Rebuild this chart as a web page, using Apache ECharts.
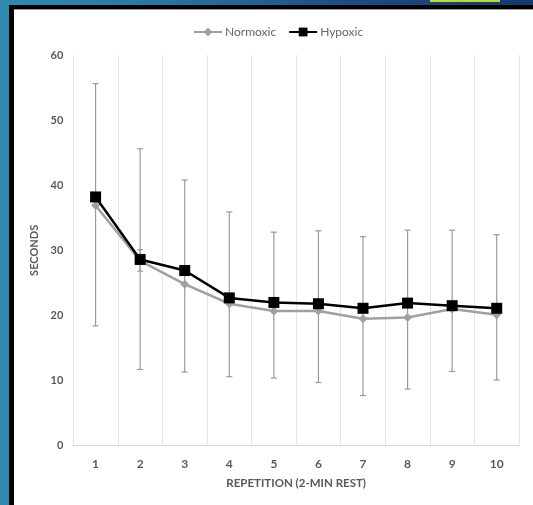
<!DOCTYPE html>
<html>
<head>
<meta charset="utf-8">
<script src="https://cdn.jsdelivr.net/npm/echarts@6/dist/echarts.min.js"></script>
<style>
html,body{margin:0;padding:0;width:533px;height:505px;overflow:hidden;}
body{background:linear-gradient(90deg,#2f8ab1 0%,#2676a3 30%,#1b4d83 65%,#133a6f 100%);position:relative;}
#frame{position:absolute;left:9px;top:5px;width:524px;height:500px;background:#000;}
#panel{position:absolute;left:14px;top:9px;width:519px;height:496px;background:#fff;border-top:1px solid #9a9a9a;box-sizing:border-box;}
#tag{position:absolute;left:430px;top:0;width:70px;height:2px;background:#c3d82a;}
#chart{position:absolute;left:0;top:0;width:533px;height:505px;}
</style>
</head>
<body>
<div id="frame"></div>
<div id="tag"></div>
<div id="panel"></div>
<div id="chart"></div>
<script>
const categories = ['1','2','3','4','5','6','7','8','9','10'];
const normoxic = [36.9, 28.4, 24.8, 21.8, 20.7, 20.7, 19.5, 19.7, 21.0, 20.1];
const hypoxic  = [38.2, 28.6, 26.9, 22.7, 22.0, 21.8, 21.1, 21.9, 21.5, 21.1];
const errLow   = [18.4, 11.7, 11.3, 10.6, 10.4, 9.7, 7.7, 8.7, 11.4, 10.1];
const errHigh  = [55.6, 45.6, 40.8, 35.9, 32.8, 33.0, 32.1, 33.1, 33.1, 32.4];
const shortErrLow  = [null, 26.8, null, null, null, null, null, null, null, null];
const shortErrHigh = [null, 30.1, null, null, null, null, null, null, null, null];

const errData = categories.map((c, i) => [i, errLow[i], errHigh[i]]);
const shortErrData = categories.map((c, i) => [i, shortErrLow[i], shortErrHigh[i]]).filter(d => d[1] != null);

function errRender(params, api) {
  const x = api.value(0);
  const lo = api.coord([x, api.value(1)]);
  const hi = api.coord([x, api.value(2)]);
  const w = 3;
  const st = {stroke: '#9a9a9a', lineWidth: 1.2};
  return {
    type: 'group',
    children: [
      {type: 'line', shape: {x1: lo[0], y1: lo[1], x2: hi[0], y2: hi[1]}, style: st},
      {type: 'line', shape: {x1: hi[0]-w, y1: hi[1], x2: hi[0]+w, y2: hi[1]}, style: st},
      {type: 'line', shape: {x1: lo[0]-w, y1: lo[1], x2: lo[0]+w, y2: lo[1]}, style: st}
    ]
  };
}

const chart = echarts.init(document.getElementById('chart'), null, {renderer: 'canvas'});
const FONT = 'Lato, "Open Sans", sans-serif';
chart.setOption({
  backgroundColor: 'transparent',
  animation: false,
  textStyle: {fontFamily: FONT},
  legend: {
    left: 188, top: 21,
    itemWidth: 28, itemHeight: 11, itemGap: 12,
    textStyle: {color: '#666666', fontSize: 12, fontFamily: FONT, padding: [0, 0, 0, -2]},
    data: ['Normoxic', 'Hypoxic']
  },
  grid: {left: 73.3, right: 14, top: 55, bottom: 59.3, containLabel: false},
  xAxis: {
    type: 'category',
    data: categories,
    boundaryGap: true,
    name: 'REPETITION (2-MIN REST)',
    nameLocation: 'middle',
    nameGap: 32,
    nameTextStyle: {color: '#595959', fontSize: 11.5, fontWeight: 'bold', fontFamily: FONT},
    axisLine: {show: true, lineStyle: {color: '#d9d9d9', width: 1}},
    axisTick: {show: false},
    axisLabel: {color: '#595959', fontSize: 12, fontWeight: 'bold', margin: 12, fontFamily: FONT},
    splitLine: {show: true, interval: 0, lineStyle: {color: '#e6e6e6', width: 1}}
  },
  yAxis: {
    type: 'value',
    min: 0, max: 60, interval: 10,
    name: 'SECONDS',
    nameLocation: 'middle',
    nameGap: 28,
    nameRotate: 90,
    nameTextStyle: {color: '#595959', fontSize: 11, fontWeight: 'bold', fontFamily: FONT},
    axisLine: {show: false},
    axisTick: {show: false},
    axisLabel: {color: '#595959', fontSize: 11, fontWeight: 'bold', margin: 10, fontFamily: FONT},
    splitLine: {show: false}
  },
  series: [
    {
      type: 'custom', name: 'err', renderItem: errRender, data: errData,
      encode: {x: 0, y: [1, 2]}, z: 1, silent: true
    },
    {
      type: 'custom', name: 'err2', renderItem: errRender, data: shortErrData,
      encode: {x: 0, y: [1, 2]}, z: 1, silent: true
    },
    {
      type: 'line', name: 'Normoxic', data: normoxic, z: 3,
      symbol: 'diamond', symbolSize: 9,
      lineStyle: {color: '#a0a0a0', width: 2.5},
      itemStyle: {color: '#a0a0a0', borderWidth: 0}
    },
    {
      type: 'line', name: 'Hypoxic', data: hypoxic, z: 4,
      symbol: 'rect', symbolSize: 11,
      lineStyle: {color: '#000000', width: 2.5},
      itemStyle: {color: '#000000', borderWidth: 0}
    }
  ]
});
</script>
</body>
</html>
